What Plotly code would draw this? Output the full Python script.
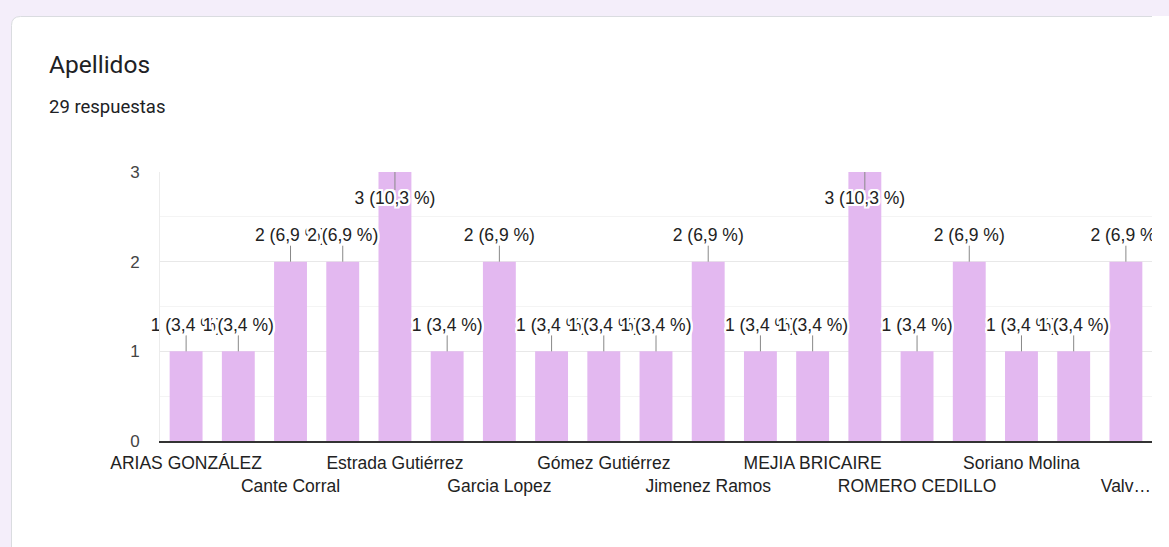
import plotly.graph_objects as go

# ---- data ----
names = ["ARIAS GONZÁLEZ", "", "Cante Corral", "", "Estrada Gutiérrez", "", "Garcia Lopez", "",
         "Gómez Gutiérrez", "", "Jimenez Ramos", "", "MEJIA BRICAIRE", "", "ROMERO CEDILLO", "",
         "Soriano Molina", "", "Valv…"]
counts = [1, 1, 2, 2, 3, 1, 2, 1, 1, 1, 2, 1, 1, 3, 1, 2, 1, 1, 2]
total = 29
title_text = "Apellidos"
subtitle_text = "29 respuestas"
y_ticks = [0, 1, 2, 3]

# ---- layout geometry (pixels) ----
W, H = 1152, 547
L, R, T, B = 160, 0, 172, 106
PW, PH = W - L - R, H - T - B

def px(x):
    return (x - L) / PW

def py(y):
    return (H - B - y) / PH

x = list(range(len(counts)))
ymax = max(y_ticks)
unit_px = PH / ymax

labels = []
for v in counts:
    pct = f"{100 * v / total:.1f}".replace(".", ",")
    labels.append(f"{v} ({pct} %)")

# label & stem positions derived from values
lab_y, stem_x, stem_y = [], [], []
for i, v in enumerate(counts):
    if v >= ymax:
        lab_y.append(v - 28 / unit_px)
        stem_x += [i, i, None]
        stem_y += [v, v - 18 / unit_px, None]
    else:
        lab_y.append(v + 25 / unit_px)
        stem_x += [i, i, None]
        stem_y += [v, v + 16 / unit_px, None]

ticktext = []
tickvals = []
for i, n in enumerate(names):
    if n:
        tickvals.append(i)
        ticktext.append(n if (i // 2) % 2 == 0 else "<br>" + n)

fig = go.Figure()
fig.add_trace(go.Bar(x=x, y=counts, marker_color="#e3b8f0", marker_line_width=0,
                     hoverinfo="skip"))
fig.add_trace(go.Scatter(x=stem_x, y=stem_y, mode="lines",
                         line=dict(color="#888888", width=1), cliponaxis=False,
                         hoverinfo="skip"))
halo = ", ".join(f"{dx}px {dy}px 0 #fff" for dx in (-2, -1, 0, 1, 2) for dy in (-2, -1, 0, 1, 2)
                 if (dx, dy) != (0, 0))
fig.add_trace(go.Scatter(x=x, y=lab_y, mode="text", text=labels,
                         textposition="middle center", cliponaxis=False,
                         textfont=dict(family="Arial, Liberation Sans", size=17.5,
                                       color="#222222", shadow=halo),
                         hoverinfo="skip"))

# card background
r = 9
x0, x1 = 11.5, 1200
y0, y1 = 16.5, 620
path = (f"M {px(x0)} {py(y1)} L {px(x0)} {py(y0 + r)} "
        f"Q {px(x0)} {py(y0)} {px(x0 + r)} {py(y0)} "
        f"L {px(x1 - r)} {py(y0)} Q {px(x1)} {py(y0)} {px(x1)} {py(y0 + r)} "
        f"L {px(x1)} {py(y1)} Z")
fig.add_shape(type="path", path=path, xref="paper", yref="paper",
              fillcolor="white", line=dict(color="#dadce0", width=1), layer="below")

fig.add_annotation(text=title_text, x=px(47), y=py(65), xref="paper", yref="paper",
                   xanchor="left", yanchor="middle", showarrow=False,
                   font=dict(family="Roboto", size=24.5, color="#202124"))
fig.add_annotation(text=subtitle_text, x=px(47), y=py(107), xref="paper", yref="paper",
                   xanchor="left", yanchor="middle", showarrow=False,
                   font=dict(family="Roboto", size=18.5, color="#202124"))

fig.update_layout(
    width=W, height=H,
    margin=dict(l=L, r=R, t=T, b=B, autoexpand=False),
    paper_bgcolor="#f4eefa", plot_bgcolor="white",
    showlegend=False, bargap=0.37,
    font=dict(family="Arial, Liberation Sans", color="#222222"),
)
fig.update_xaxes(range=[-0.5, len(counts) - 0.5], tickvals=tickvals, ticktext=ticktext,
                 tickangle=0, showgrid=False, zeroline=False, showline=True,
                 linecolor="#333333", linewidth=2, ticks="",
                 tickfont=dict(size=17.5, color="#222222"), ticklabelstandoff=5)
fig.update_yaxes(range=[0, ymax], tickvals=y_ticks, showgrid=True, gridcolor="#e8e8e8",
                 zeroline=False, showline=True, mirror=True, linecolor="#ececec",
                 linewidth=1, ticks="", tickfont=dict(size=17, color="#444444"),
                 ticklabelstandoff=16,
                 minor=dict(dtick=0.5, showgrid=True, gridcolor="#f4f4f4", ticks=""))

post = ("document.body.style.margin='0';"
        "document.body.style.background='linear-gradient(#f4eefa 0 16px, #ffffff 16px)';")
fig.write_html("out.html", post_script=post, config={"displayModeBar": False})
